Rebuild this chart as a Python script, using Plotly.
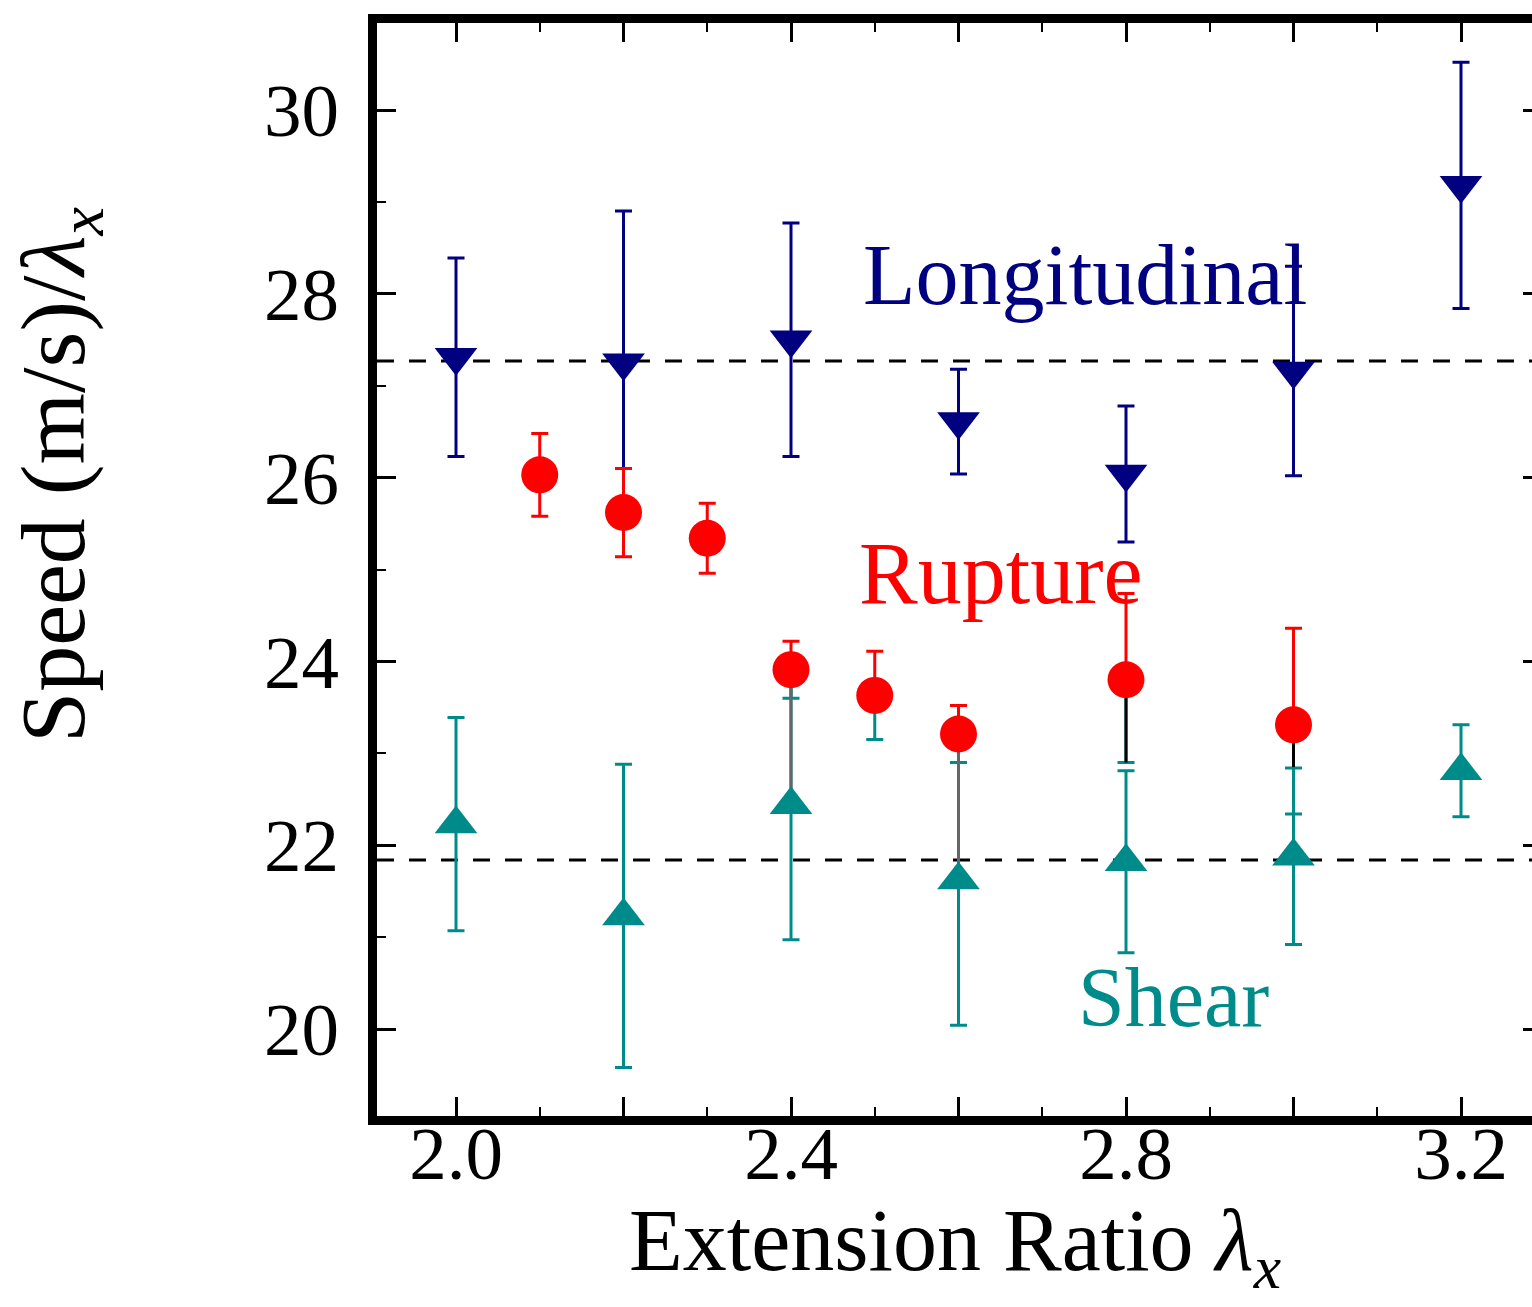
import plotly.graph_objects as go

# ---------------- data ----------------
long_x = [2.0, 2.2, 2.4, 2.6, 2.8, 3.0, 3.2]
long_y = [27.31, 27.25, 27.50, 26.61, 26.04, 27.16, 29.18]
long_err = [1.08, 1.65, 1.27, 0.57, 0.74, 1.14, 1.34]

rup_x = [2.1, 2.2, 2.3, 2.4, 2.5, 2.6, 2.8, 3.0]
rup_y = [26.03, 25.62, 25.34, 23.91, 23.63, 23.21, 23.80, 23.31]
rup_err_up = [0.45, 0.48, 0.38, 0.31, 0.48, 0.31, 0.94, 1.05]
rup_err_down = [0.45, 0.48, 0.38, 0.31, 0.48, 0.31, 0.90, 0.97]

shear_x = [2.0, 2.2, 2.4, 2.6, 2.8, 3.0, 3.2]
shear_y = [22.23, 21.23, 22.44, 21.62, 21.82, 21.88, 22.81]
shear_err = [1.16, 1.65, 1.47, 1.58, 0.99, 0.96, 0.50]

# dark connector segments between rupture and shear points
conn_gray_x = [2.4, 2.6]
conn_gray_top = [23.91, 23.21]
conn_gray_bot = [22.44, 21.62]
conn_black_x = [2.8, 3.0]
conn_black_top = [23.80, 23.31]
conn_black_bot = [22.90, 22.85]

mean_long = 27.27
mean_shear = 21.84

x_tickvals = [2.0, 2.2, 2.4, 2.6, 2.8, 3.0, 3.2]
x_ticktext = ["2.0", "", "2.4", "", "2.8", "", "3.2"]
y_tickvals = [20, 22, 24, 26, 28, 30]
y_ticktext = ["20", "22", "24", "26", "28", "30"]

NAVY = "#000080"
RED = "#ff0000"
TEAL = "#008b8b"
FONT = "Liberation Serif"

# ---------------- figure ----------------
W, H = 1580, 1307
L, T = 377, 23
PW, PH = 1165, 1093
PXU = 837.5          # px per x unit
PYU = 91.9           # px per y unit
x0 = 2.0 - (456 - L) / PXU
x1 = x0 + PW / PXU
y1 = 30 + (110 - T) / PYU
y0 = y1 - PH / PYU

fig = go.Figure()

invis = dict(color="rgba(0,0,0,0)", size=1)
EW = 3
CAP = 8.5

# shear error bars (teal)
fig.add_trace(go.Scatter(
    x=shear_x, y=shear_y, mode="markers", marker=invis,
    error_y=dict(type="data", array=shear_err, color=TEAL, thickness=EW, width=CAP),
    showlegend=False, hoverinfo="skip"))

# rupture lower bars drawn in teal for later points
lx = rup_x[3:]
ly = rup_y[3:]
ld = rup_err_down[3:]
fig.add_trace(go.Scatter(
    x=lx, y=ly, mode="markers", marker=invis,
    error_y=dict(type="data", symmetric=False, array=[0] * len(lx), arrayminus=ld,
                 color=TEAL, thickness=EW, width=CAP),
    showlegend=False, hoverinfo="skip"))

# connectors
fig.add_trace(go.Scatter(
    x=conn_gray_x, y=conn_gray_bot, mode="markers", marker=invis,
    error_y=dict(type="data", symmetric=False,
                 array=[t - b for t, b in zip(conn_gray_top, conn_gray_bot)],
                 arrayminus=[0] * len(conn_gray_x), color="#666666", thickness=EW, width=0),
    showlegend=False, hoverinfo="skip"))
fig.add_trace(go.Scatter(
    x=conn_black_x, y=conn_black_bot, mode="markers", marker=invis,
    error_y=dict(type="data", symmetric=False,
                 array=[t - b for t, b in zip(conn_black_top, conn_black_bot)],
                 arrayminus=[0] * len(conn_black_x), color="#000000", thickness=EW, width=0),
    showlegend=False, hoverinfo="skip"))

# longitudinal
fig.add_trace(go.Scatter(
    x=long_x, y=long_y, mode="markers",
    marker=dict(symbol="triangle-down", size=37, color=NAVY, line=dict(width=0)),
    error_y=dict(type="data", array=long_err, color=NAVY, thickness=EW, width=CAP),
    showlegend=False))

# rupture
rup_minus = rup_err_down[:3] + [0] * (len(rup_x) - 3)
fig.add_trace(go.Scatter(
    x=rup_x, y=rup_y, mode="markers",
    marker=dict(symbol="circle", size=37, color=RED, line=dict(width=0)),
    error_y=dict(type="data", symmetric=False, array=rup_err_up, arrayminus=rup_minus,
                 color=RED, thickness=EW, width=CAP),
    showlegend=False))

# shear markers on top
fig.add_trace(go.Scatter(
    x=shear_x, y=shear_y, mode="markers",
    marker=dict(symbol="triangle-up", size=37, color=TEAL, line=dict(width=0)),
    showlegend=False))

# dashed mean lines
for yv in (mean_long, mean_shear):
    fig.add_shape(type="line", xref="paper", yref="y", x0=0, x1=1, y0=yv, y1=yv,
                  line=dict(color="black", width=3, dash="17px,15px"), layer="below")

# series labels
fig.add_annotation(x=2.751, y=28.21, text="Longitudinal", showarrow=False,
                   xanchor="center", yanchor="middle",
                   font=dict(family=FONT, size=86, color=NAVY))
fig.add_annotation(x=2.651, y=24.96, text="Rupture", showarrow=False,
                   xanchor="center", yanchor="middle",
                   font=dict(family=FONT, size=88, color=RED))
fig.add_annotation(x=2.857, y=20.34, text="Shear", showarrow=False,
                   xanchor="center", yanchor="middle",
                   font=dict(family=FONT, size=84, color=TEAL))

# axis titles
fig.add_annotation(xref="paper", yref="paper", x=(955 - L) / PW, y=(T + PH - 1246) / PH,
                   xanchor="center", yanchor="middle",
                   text="Extension Ratio <i>λ</i><sub><i>x</i></sub>", showarrow=False,
                   font=dict(family=FONT, size=88, color="black"))
fig.add_annotation(xref="paper", yref="paper", x=(60 - L) / PW, y=(T + PH - 475) / PH,
                   xanchor="center", yanchor="middle",
                   text="Speed (m/s)/<i>λ</i><sub><i>x</i></sub>", showarrow=False, textangle=-90,
                   font=dict(family=FONT, size=92, color="black"))

axis_common = dict(showline=True, linewidth=9, linecolor="black", mirror="ticks",
                   ticks="inside", ticklen=19, tickwidth=2.5, tickcolor="black",
                   showgrid=False, zeroline=False,
                   tickfont=dict(family=FONT, size=75, color="black"))

fig.update_xaxes(range=[x0, x1], tickmode="array", tickvals=x_tickvals, ticktext=x_ticktext,
                 minor=dict(dtick=0.1, tick0=2.0, ticks="inside", ticklen=9, tickwidth=2.2,
                            tickcolor="black", showgrid=False),
                 ticklabelstandoff=-36, **axis_common)
fig.update_yaxes(range=[y0, y1], tickmode="array", tickvals=y_tickvals, ticktext=y_ticktext,
                 minor=dict(dtick=1, tick0=20, ticks="inside", ticklen=9, tickwidth=2.2,
                            tickcolor="black", showgrid=False),
                 ticklabelstandoff=14, **axis_common)

fig.update_layout(width=W, height=H, margin=dict(l=L, r=W - L - PW, t=T, b=H - T - PH, pad=0),
                  plot_bgcolor="white", paper_bgcolor="white", showlegend=False)

fig.write_html("out.html", post_script=(
    "document.documentElement.style.overflow='hidden';"
    "document.body.style.overflow='hidden';document.body.style.margin='0';"))
